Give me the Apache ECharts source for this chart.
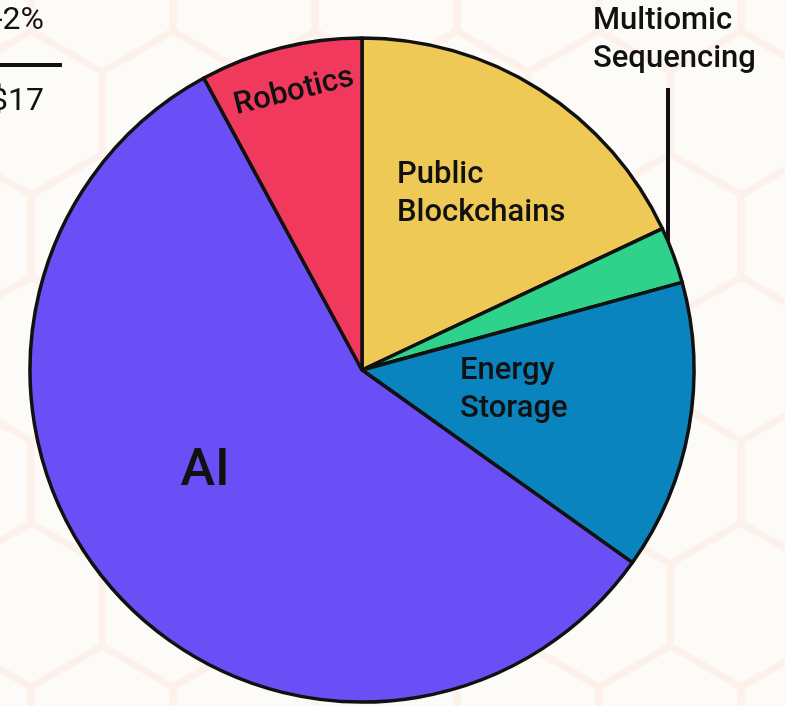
<!DOCTYPE html>
<html>
<head>
    <meta charset="utf-8">
    <title>Pie</title>
    <script src="https://cdn.jsdelivr.net/npm/echarts@6.0.0/dist/echarts.min.js"></script>
    <style>
        html, body { margin: 0; padding: 0; background: #fdfbf8; }
    </style>
</head>
<body>
<div id="main" style="width: 785px;height:706px;"></div>
<script type="text/javascript">

    // data
    let categories = ['Public Blockchains', 'Multiomic Sequencing', 'Energy Storage', 'AI', 'Robotics'];
    let shares = [18.0, 2.75, 14.1, 57.25, 7.9];
    let labelText = ['Public\nBlockchains', 'Multiomic\nSequencing', 'Energy\nStorage', 'AI', 'Robotics'];
    let sideTop = '-2%';
    let sideBottom = '$17';

    let colors = ['#eec955', '#2fd28a', '#0a84be', '#6b4ff6', '#f0395d'];

    // where each label sits
    let labelPos = [
        {x: 397, y: 194, align: 'left'},
        {x: 593, y: 40, align: 'left'},
        {x: 460, y: 390, align: 'left'},
        {x: 205, y: 472, align: 'center'},
        {x: 294, y: 92, align: 'center', rotate: 14}
    ];

    // faint hexagon background
    let hexes = [];
    let R = 82, w = Math.sqrt(3) * R;
    for (let row = -1; row < 7; row++) {
        for (let col = -1; col < 7; col++) {
            let cx = col * w + (row % 2 ? w / 2 : 0) - 40;
            let cy = row * R * 1.5 - 10;
            let pts = [];
            for (let k = 0; k < 6; k++) {
                let a = Math.PI / 180 * (60 * k - 30);
                pts.push([cx + R * Math.cos(a), cy + R * Math.sin(a)]);
            }
            hexes.push({
                type: 'polygon', silent: true, z: -10,
                shape: {points: pts},
                style: {fill: 'none', stroke: '#fcf2eb', lineWidth: 7}
            });
        }
    }

    let pieData = categories.map(function (c, i) {
        let item = {name: c, value: shares[i], itemStyle: {color: colors[i]}};
        if (i === 1) {
            item.label = {position: 'outside'};
            item.labelLine = {show: true, lineStyle: {color: '#111', width: 4}};
        }
        return item;
    });

    option = {
        backgroundColor: '#fdfbf8',
        animation: false,
        graphic: hexes.concat([
            {
                type: 'text', x: 44, y: 5,
                style: {text: sideTop, font: '32px Roboto', fill: '#111', align: 'right'}
            },
            {
                type: 'rect', shape: {x: 0, y: 63, width: 62, height: 4},
                style: {fill: '#111'}
            },
            {
                type: 'text', x: 44, y: 86,
                style: {text: sideBottom, font: '32px Roboto', fill: '#111', align: 'right'}
            }
        ]),
        series: [
            {
                type: 'pie',
                center: [362, 370],
                radius: 332,
                startAngle: 90,
                clockwise: true,
                avoidLabelOverlap: false,
                emphasis: {disabled: true},
                itemStyle: {
                    borderColor: '#111',
                    borderWidth: 3.5
                },
                label: {
                    show: true,
                    position: 'inside',
                    formatter: function (p) { return labelText[p.dataIndex]; },
                    fontFamily: 'Roboto',
                    fontSize: 31,
                    fontWeight: 500,
                    lineHeight: 38,
                    color: '#111'
                },
                labelLayout: function (params) {
                    let p = labelPos[params.dataIndex];
                    let out = {
                        x: p.x, y: p.y, align: p.align, verticalAlign: 'middle',
                        rotate: p.rotate || 0
                    };
                    if (params.dataIndex === 3) {
                        out.fontSize = 52;
                    }
                    if (params.dataIndex === 1) {
                        out.labelLinePoints = [[668, 252], [668, 170], [668, 88]];
                    }
                    return out;
                },
                data: pieData
            }
        ]
    };

    let myChart = echarts.init(document.getElementById('main'));
    myChart.setOption(option)
</script>
</body>
</html>
